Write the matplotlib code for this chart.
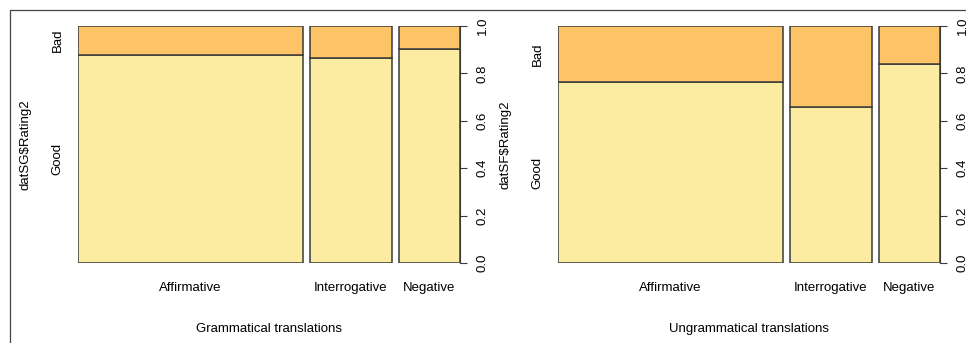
import numpy as np
import matplotlib.pyplot as plt
from matplotlib.lines import Line2D

plt.rcParams['font.family'] = ['Liberation Sans', 'DejaVu Sans']
plt.rcParams['font.size'] = 9.5

categories = ['Affirmative', 'Interrogative', 'Negative']
# share of sentences in each category (column widths)
shares = [0.612, 0.222, 0.166]
# proportion rated "Good" per category
good_sg = [0.878, 0.865, 0.903]
good_sf = [0.764, 0.658, 0.840]
rating_levels = ['Good', 'Bad']

col_good = '#fbeca2'
col_bad = '#fcc467'
edge = '#3a3a3a'
gap = 0.02


def spineplot(ax, widths, good, ylab, xlab):
    widths = np.asarray(widths) / np.sum(widths)
    lefts = np.concatenate([[0], np.cumsum(widths)[:-1]]) + gap * np.arange(len(widths))
    good = np.asarray(good)
    ax.bar(lefts, good, width=widths, align='edge', color=col_good,
           edgecolor=edge, linewidth=1.1)
    ax.bar(lefts, 1 - good, bottom=good, width=widths, align='edge',
           color=col_bad, edgecolor=edge, linewidth=1.1)
    ax.set_xlim(0, lefts[-1] + widths[-1])
    ax.set_ylim(0, 1)

    for s in ['top', 'left', 'bottom']:
        ax.spines[s].set_visible(False)
    ax.spines['right'].set_color(edge)
    ax.yaxis.tick_right()
    ax.set_yticks(np.arange(0, 1.01, 0.2))
    ax.set_yticklabels([f'{v:.1f}' for v in np.arange(0, 1.01, 0.2)],
                       rotation=90, va='center')
    ax.tick_params(axis='y', length=5, width=0.8, color=edge, pad=7)
    ax.set_xticks(lefts + widths / 2)
    ax.set_xticklabels(categories)
    ax.tick_params(axis='x', length=0, pad=14)

    # level labels on the left, placed at the first column's segments
    ax.text(-0.055, good[0] / 2, rating_levels[0], rotation=90,
            ha='center', va='center', transform=ax.transData)
    ax.text(-0.055, (1 + good[0]) / 2, rating_levels[1], rotation=90,
            ha='center', va='center', transform=ax.transData)
    ax.text(-0.137, 0.5, ylab, rotation=90, ha='center', va='center',
            transform=ax.transAxes)
    ax.text(0.5, -0.278, xlab, ha='center', va='center', transform=ax.transAxes)


W, H = 966, 343
fig = plt.figure(figsize=(W / 100, H / 100), dpi=100)

ax1 = fig.add_axes([78 / W, (H - 263) / H, 382 / W, 237 / H])
spineplot(ax1, shares, good_sg, 'datSG$Rating2', 'Grammatical translations')

ax2 = fig.add_axes([558 / W, (H - 263) / H, 382 / W, 237 / H])
spineplot(ax2, shares, good_sf, 'datSF$Rating2', 'Ungrammatical translations')

# outer frame
fig.add_artist(Line2D([10 / W, 10 / W, 1.0], [0, 1 - 10 / H, 1 - 10 / H],
                      transform=fig.transFigure, color='#444444', linewidth=0.9))

fig.savefig('out.png', dpi=100)
